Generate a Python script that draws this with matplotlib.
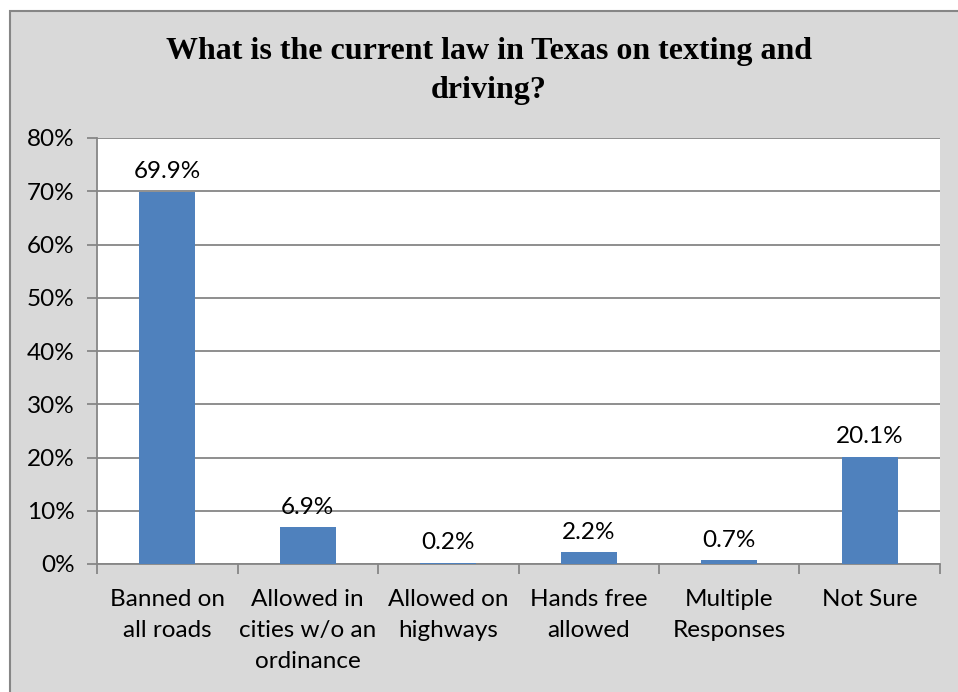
import matplotlib.pyplot as plt
from matplotlib.patches import Rectangle
from matplotlib.ticker import FixedLocator, PercentFormatter

categories = ['Banned on\nall roads', 'Allowed in\ncities w/o an\nordinance', 'Allowed on\nhighways',
              'Hands free\nallowed', 'Multiple\nResponses', 'Not Sure']
values = [69.9, 6.9, 0.2, 2.2, 0.7, 20.1]
yticks = [0, 10, 20, 30, 40, 50, 60, 70, 80]

bar_color = '#4F81BD'
grid_color = '#868686'
bg_color = '#D9D9D9'
label_font = 'Lato'

fig = plt.figure(figsize=(9.58, 6.92), dpi=100)
fig.patch.set_facecolor('white')

# gray chart frame, kept behind the axes
frame = Rectangle((10 / 958, -0.1), 1.2, (692 - 11) / 692 + 0.1, transform=fig.transFigure,
                  facecolor=bg_color, edgecolor=grid_color, linewidth=1.5, zorder=-10)
fig.patches.append(frame)

ax = fig.add_axes([97 / 958, (692 - 564) / 692, (940 - 97) / 958, (564 - 138) / 692])
ax.set_zorder(1)
ax.set_facecolor('white')

x = range(len(categories))
ax.bar(x, values, width=0.4, color=bar_color, zorder=3)

for i, v in enumerate(values):
    ax.annotate(f'{v:.1f}%', (i, v), xytext=(0, 7), textcoords='offset points',
                ha='center', va='bottom', fontsize=17.5, family=label_font)

ax.set_ylim(0, 80)
ax.set_xlim(-0.5, len(categories) - 0.5)
ax.set_yticks(yticks)
ax.yaxis.set_major_formatter(PercentFormatter(decimals=0))
ax.yaxis.grid(True, color=grid_color, linewidth=1.3, zorder=0)
ax.set_axisbelow(True)

ax.set_xticks(list(x))
ax.set_xticklabels(categories, fontsize=17.5, family=label_font, linespacing=1.6)
ax.xaxis.set_minor_locator(FixedLocator([i - 0.5 for i in range(len(categories) + 1)]))
ax.tick_params(axis='x', which='major', length=0, pad=18)
ax.tick_params(axis='x', which='minor', length=7, color=grid_color, width=1.3)
ax.tick_params(axis='y', length=7, color=grid_color, width=1.3, labelsize=17.5, pad=9)
for lbl in ax.get_yticklabels():
    lbl.set_family(label_font)

for side in ['top', 'right']:
    ax.spines[side].set_visible(False)
for side in ['left', 'bottom']:
    ax.spines[side].set_color(grid_color)
    ax.spines[side].set_linewidth(1.3)

fig.text(489 / 958, 1 - 71 / 692, 'What is the current law in Texas on texting and\ndriving?',
         ha='center', va='center', fontsize=23, fontweight='bold', family='Liberation Serif',
         linespacing=1.45)

fig.savefig('out.png', dpi=100)
